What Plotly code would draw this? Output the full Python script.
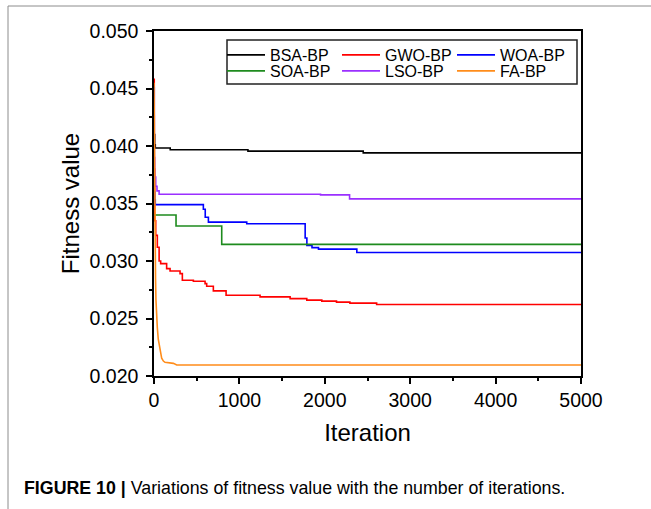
import plotly.graph_objects as go

# ---------------- data ----------------
bsa_x = [0, 8, 15, 190, 1100, 2450, 5000]
bsa_y = [0.0410, 0.0401, 0.03983, 0.03968, 0.03955, 0.0394, 0.0394]

gwo_x = [0, 3, 8, 20, 39, 60, 78, 148, 188, 305, 332, 461, 598, 617, 695, 844,
         1242, 1594, 1789, 1965, 2137, 2294, 2607, 5000]
gwo_y = [0.0458, 0.0380, 0.0335, 0.03223, 0.0312, 0.0300, 0.02977, 0.02934,
         0.02913, 0.0289, 0.02832, 0.02824, 0.02803, 0.0278, 0.0274, 0.02702,
         0.02688, 0.02673, 0.0266, 0.02651, 0.02642, 0.02634, 0.02622, 0.02622]

woa_x = [0, 3, 8, 15, 578, 600, 637, 1086, 1770, 1790, 1850, 1926, 2375, 5000]
woa_y = [0.0451, 0.0360, 0.0353, 0.0349, 0.0345, 0.0338, 0.03338, 0.03324,
         0.0320, 0.03136, 0.03116, 0.03103, 0.03074, 0.03074]

soa_x = [0, 258, 793, 5000]
soa_y = [0.0340, 0.03304, 0.03145, 0.03145]

lso_x = [0, 3, 8, 20, 35, 60, 1950, 2290, 5000]
lso_y = [0.0426, 0.0390, 0.0373, 0.0365, 0.0361, 0.0358, 0.03575, 0.0354, 0.0354]

fa_x = [0, 5, 12, 18, 23, 30, 39, 50, 62, 75, 90, 110, 129, 227, 266, 5000]
fa_y = [0.0455, 0.0380, 0.0310, 0.0285, 0.0266, 0.0252, 0.0242, 0.0232,
        0.0226, 0.0219, 0.02154, 0.0213, 0.02119, 0.0211, 0.02096, 0.02096]

names = ["BSA-BP", "GWO-BP", "WOA-BP", "SOA-BP", "LSO-BP", "FA-BP"]
colors = ["#000000", "#FF0000", "#0000FF", "#1E8B1E", "#9B30FF", "#FF8C1A"]
xs = [bsa_x, gwo_x, woa_x, soa_x, lso_x, fa_x]
ys = [bsa_y, gwo_y, woa_y, soa_y, lso_y, fa_y]
shapes_ = ["hv", "hv", "hv", "hv", "hv", "linear"]
legend_rows = ["legend", "legend", "legend", "legend2", "legend2", "legend2"]

x_ticks = [0, 1000, 2000, 3000, 4000, 5000]
y_ticks = [0.020, 0.025, 0.030, 0.035, 0.040, 0.045, 0.050]

FONT = "Liberation Sans, Arial, Helvetica, sans-serif"

fig = go.Figure()
for n, c, x, y, s, lg in zip(names, colors, xs, ys, shapes_, legend_rows):
    fig.add_trace(go.Scatter(x=x, y=y, mode="lines", name=n, legend=lg,
                             line=dict(color=c, width=1.6, shape=s)))

W, H = 651, 509
L, R, T, B = 154, 70, 31, 133
pw, ph = W - L - R, H - T - B

def px(xp):
    return (xp - L) / pw

def py(yp):
    return (H - B - yp) / ph

axis_common = dict(showline=True, linecolor="black", linewidth=1.5, mirror=True,
                   ticks="outside", ticklen=6, tickwidth=1.5, tickcolor="black",
                   showgrid=False, zeroline=False,
                   tickfont=dict(family=FONT, size=19.5, color="black"))

fig.update_xaxes(range=[0, 5000], tickvals=x_ticks,
                 minor=dict(dtick=500, ticks="outside", ticklen=3, tickwidth=1.5,
                            tickcolor="black", showgrid=False),
                 title=dict(text="Iteration", font=dict(family=FONT, size=24, color="black"),
                            standoff=14),
                 **axis_common)
fig.update_yaxes(range=[0.020, 0.050], tickvals=y_ticks, tickformat=".3f",
                 ticklabelstandoff=4,
                 minor=dict(dtick=0.0025, ticks="outside", ticklen=3, tickwidth=1.5,
                            tickcolor="black", showgrid=False),
                 title=dict(text="Fitness value", font=dict(family=FONT, size=24, color="black"),
                            standoff=3),
                 **axis_common)

legend_common = dict(orientation="h", xanchor="left", yanchor="middle",
                     borderwidth=0, bgcolor="rgba(0,0,0,0)",
                     font=dict(family=FONT, size=16, color="black"),
                     itemwidth=38, entrywidth=62, tracegroupgap=0)

fig.update_layout(
    width=W, height=H,
    margin=dict(l=L, r=R, t=T, b=B),
    paper_bgcolor="white", plot_bgcolor="white",
    font=dict(family=FONT, color="black"),
    legend=dict(x=px(222), y=py(55), **legend_common),
    legend2=dict(x=px(222), y=py(71), **legend_common),
    shapes=[
        dict(type="rect", xref="paper", yref="paper", x0=px(227), x1=px(577),
             y0=py(40), y1=py(84), line=dict(color="#222222", width=1.5),
             fillcolor="rgba(0,0,0,0)", layer="above"),
        dict(type="line", xref="paper", yref="paper", x0=px(8), x1=px(651),
             y0=py(6), y1=py(6), line=dict(color="#8c8c8c", width=1)),
        dict(type="line", xref="paper", yref="paper", x0=px(8), x1=px(8),
             y0=py(6), y1=py(509), line=dict(color="#8c8c8c", width=1)),
    ],
    annotations=[
        dict(xref="paper", yref="paper", x=px(22), y=py(488), xanchor="left",
             yanchor="middle", showarrow=False,
             text="<b>FIGURE 10 |</b> Variations of fitness value with the number of iterations.",
             font=dict(family=FONT, size=17.8, color="black")),
    ],
)

fig.write_html("out.html")
